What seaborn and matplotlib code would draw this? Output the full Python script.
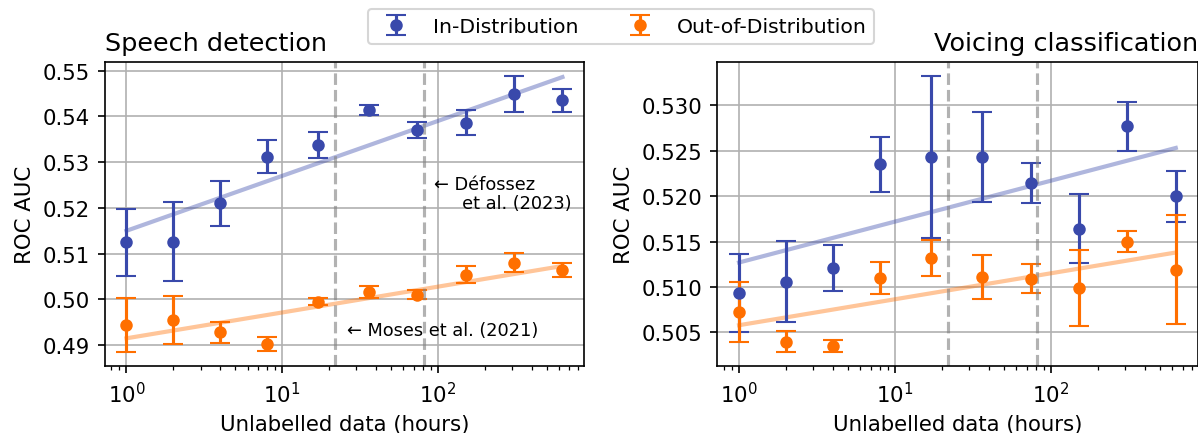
import numpy as np
import matplotlib
matplotlib.use("Agg")
import matplotlib.pyplot as plt
import pandas as pd
import seaborn as sns

#%% Data

hours = [1, 2, 4, 8, 17, 36, 74, 151, 308, 632]

# Speech detection
speech_id = [0.5125, 0.5126, 0.5210, 0.5312, 0.5337, 0.5414, 0.5370, 0.5386, 0.5449, 0.5435]
speech_id_err = [0.0073, 0.0086, 0.0049, 0.0036, 0.0029, 0.0010, 0.0018, 0.0027, 0.0039, 0.0025]
speech_ood = [0.4944, 0.4955, 0.4928, 0.4902, 0.4995, 0.5017, 0.5010, 0.5054, 0.5080, 0.5065]
speech_ood_err = [0.0060, 0.0053, 0.0023, 0.0015, 0.0007, 0.0013, 0.0010, 0.0019, 0.0021, 0.0015]
speech_id_fit = [0.5150, 0.5486]
speech_ood_fit = [0.4915, 0.5073]

# Voicing classification
voicing_id = [0.5093, 0.5106, 0.5121, 0.5235, 0.5243, 0.5243, 0.5214, 0.5164, 0.5277, 0.5200]
voicing_id_err = [0.0043, 0.0045, 0.0025, 0.0030, 0.0089, 0.0049, 0.0022, 0.0038, 0.0027, 0.0028]
voicing_ood = [0.5073, 0.5040, 0.5035, 0.5110, 0.5132, 0.5111, 0.5109, 0.5099, 0.5150, 0.5119]
voicing_ood_err = [0.0033, 0.0012, 0.0007, 0.0018, 0.0020, 0.0024, 0.0016, 0.0042, 0.0012, 0.0060]
voicing_id_fit = [0.5127, 0.5253]
voicing_ood_fit = [0.5058, 0.5138]

# reference dataset sizes (hours)
moses_hours = 22
defossez_hours = 81

id_color = "#3949ab"
ood_color = "#ff6f00"

#%% Plot

plt.rcParams["font.size"] = 10.2

fig = plt.figure(figsize=(7.993, 2.893), dpi=150)
ax1 = fig.add_axes([0.0873, 0.1537, 0.4000, 0.7005])
ax2 = fig.add_axes([0.5982, 0.1537, 0.4007, 0.7005])


def panel(ax, id_vals, id_err, ood_vals, ood_err, id_fit, ood_fit):
    fit = pd.DataFrame({"hours": [hours[0], hours[-1]] * 2,
                        "auc": id_fit + ood_fit,
                        "split": ["id", "id", "ood", "ood"]})
    sns.lineplot(data=fit, x="hours", y="auc", hue="split",
                 palette={"id": id_color, "ood": ood_color},
                 alpha=0.4, lw=2, legend=False, ax=ax)
    ax.errorbar(hours, id_vals, yerr=id_err, fmt="o", color=id_color,
                capsize=5, ms=5, label="In-Distribution")
    ax.errorbar(hours, ood_vals, yerr=ood_err, fmt="o", color=ood_color,
                capsize=5, ms=5, label="Out-of-Distribution")
    for h in [moses_hours, defossez_hours]:
        ax.axvline(h, color="gray", ls="--", lw=1.5, alpha=0.6)
    ax.set_xscale("log")
    ax.grid(True, which="major")
    ax.set_xlabel("Unlabelled data (hours)")
    ax.set_ylabel("ROC AUC")


panel(ax1, speech_id, speech_id_err, speech_ood, speech_ood_err,
      speech_id_fit, speech_ood_fit)
panel(ax2, voicing_id, voicing_id_err, voicing_ood, voicing_ood_err,
      voicing_id_fit, voicing_ood_fit)

ax1.set_title("Speech detection", loc="left")
ax2.set_title("Voicing classification", loc="right")

ax1.text(26, 0.4933, "← Moses et al. (2021)", fontsize=8.5, va="center")
ax1.text(95, 0.5232, "← Défossez\n     et al. (2023)", fontsize=8.5,
         va="center", linespacing=1.1)

handles, labels = ax1.get_legend_handles_labels()
fig.legend(handles, labels, loc="center", ncol=2, fontsize=9.8,
           bbox_to_anchor=(0.518, 0.937))

plt.savefig("out.png", dpi=150)
